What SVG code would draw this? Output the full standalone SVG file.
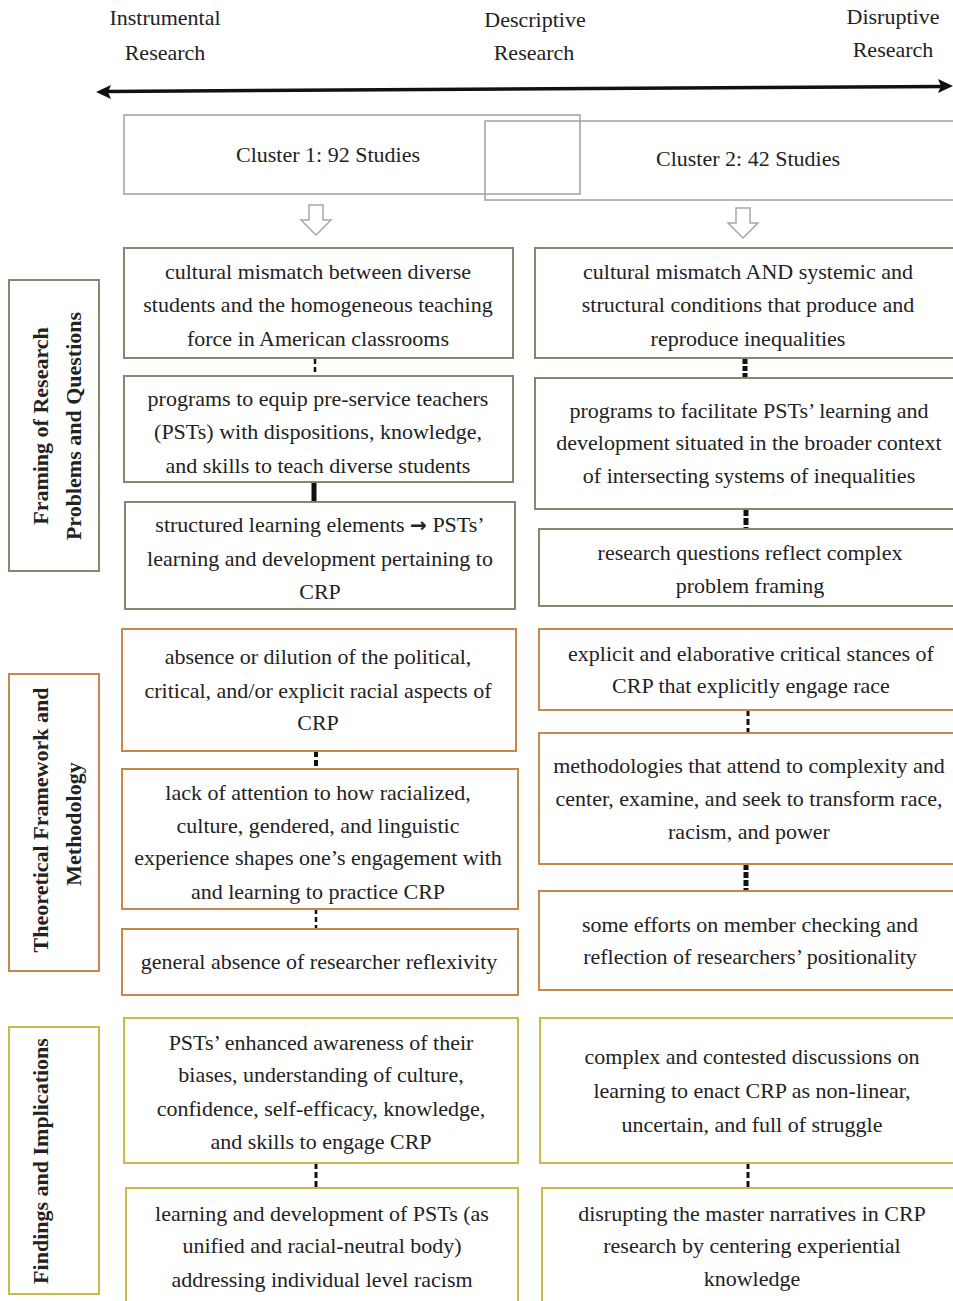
<svg xmlns="http://www.w3.org/2000/svg" width="953" height="1301" viewBox="0 0 953 1301">
<style>
text{font-family:"Liberation Serif","Times New Roman",serif;fill:#222;font-size:22px;text-anchor:middle}
.side{font-weight:bold;font-size:22px}
.arr{font-family:"DejaVu Sans",sans-serif;font-weight:bold;font-size:20px}
.s1{fill:#fff;stroke:#7f8b6e;stroke-width:2}
.s2{fill:#fff;stroke:#c8884a;stroke-width:2}
.s3{fill:#fff;stroke:#c9bc45;stroke-width:2}
.cl{fill:none;stroke:#a0a0a0;stroke-width:1.5}
.blk{fill:#fff;stroke:#a8a8a8;stroke-width:1.5}
.c{stroke:#111;fill:none}
</style>
<rect width="953" height="1301" fill="#fff"/>
<g id="header">
<text x="165" y="25">Instrumental</text>
<text x="165" y="60">Research</text>
<text x="535" y="27">Descriptive</text>
<text x="534" y="60">Research</text>
<text x="893" y="24">Disruptive</text>
<text x="893" y="57">Research</text>
</g>
<g id="axis">
<line x1="106" y1="91.5" x2="944" y2="86.5" stroke="#111" stroke-width="3.5"/>
<polygon points="96,92 111,85 108,92 111,99" fill="#111"/>
<polygon points="953,86 938,79 941,86 938,93" fill="#111"/>
</g>
<g id="cluster1"><rect class="cl" x="124" y="115" width="456" height="79"/></g>
<g id="cluster2"><rect class="cl" x="485" y="121" width="470" height="79"/></g>
<g id="cluster-labels">
<text x="328" y="162">Cluster 1: 92 Studies</text>
<text x="748" y="166">Cluster 2: 42 Studies</text>
</g>
<g id="block-arrows">
<path class="blk" d="M309,205 H323 V220 H331 L316,235 L301,220 H309 Z"/>
<path class="blk" d="M736,208 H750 V223 H758 L743,238 L728,223 H736 Z"/>
</g>
<g id="connectors">
<line class="c" x1="315" y1="359" x2="315" y2="376" stroke-width="2.5" stroke-dasharray="5,3"/>
<line class="c" x1="314" y1="482" x2="314" y2="502" stroke-width="5"/>
<line class="c" x1="745" y1="359" x2="745" y2="378" stroke-width="5" stroke-dasharray="5,2"/>
<line class="c" x1="746" y1="509" x2="746" y2="529" stroke-width="5" stroke-dasharray="7,2"/>
<line class="c" x1="316" y1="751" x2="316" y2="769" stroke-width="4" stroke-dasharray="6,3"/>
<line class="c" x1="316" y1="909" x2="316" y2="929" stroke-width="2.5" stroke-dasharray="5,3"/>
<line class="c" x1="748" y1="710" x2="748" y2="733" stroke-width="3" stroke-dasharray="6,3"/>
<line class="c" x1="746" y1="864" x2="746" y2="891" stroke-width="5" stroke-dasharray="6,2"/>
<line class="c" x1="316" y1="1163" x2="316" y2="1188" stroke-width="3" stroke-dasharray="6,3"/>
<line class="c" x1="748" y1="1163" x2="748" y2="1188" stroke-width="3" stroke-dasharray="6,3"/>
</g>
<g id="side1">
<rect class="s1" x="9" y="280" width="90" height="291"/>
<text class="side" transform="translate(48,426) rotate(-90)">Framing of Research</text>
<text class="side" transform="translate(81,426) rotate(-90)">Problems and Questions</text>
</g>
<g id="side2">
<rect class="s2" x="9" y="674" width="90" height="297"/>
<text class="side" transform="translate(48,820) rotate(-90)">Theoretical Framework and</text>
<text class="side" transform="translate(81,824) rotate(-90)">Methodology</text>
</g>
<g id="side3">
<rect class="s3" x="9" y="1027" width="90" height="267"/>
<text class="side" transform="translate(48,1161) rotate(-90)">Findings and Implications</text>
</g>
<g id="L1"><rect class="s1" x="124" y="248" width="389" height="110"/>
<text x="318" y="279">cultural mismatch between diverse</text>
<text x="318" y="312">students and the homogeneous teaching</text>
<text x="318" y="346">force in American classrooms</text></g>
<g id="L2"><rect class="s1" x="124" y="376" width="389" height="106"/>
<text x="318" y="406">programs to equip pre-service teachers</text>
<text x="318" y="439">(PSTs) with dispositions, knowledge,</text>
<text x="318" y="473">and skills to teach diverse students</text></g>
<g id="L3"><rect class="s1" x="125" y="502" width="390" height="107"/>
<text x="320" y="532">structured learning elements <tspan class="arr">→</tspan> PSTs’</text>
<text x="320" y="566">learning and development pertaining to</text>
<text x="320" y="599">CRP</text></g>
<g id="R1"><rect class="s1" x="535" y="248" width="420" height="110"/>
<text x="748" y="279">cultural mismatch AND systemic and</text>
<text x="748" y="312">structural conditions that produce and</text>
<text x="748" y="346">reproduce inequalities</text></g>
<g id="R2"><rect class="s1" x="535" y="378" width="420" height="131"/>
<text x="749" y="418">programs to facilitate PSTs’ learning and</text>
<text x="749" y="450">development situated in the broader context</text>
<text x="749" y="483">of intersecting systems of inequalities</text></g>
<g id="R3"><rect class="s1" x="539" y="529" width="416" height="77"/>
<text x="750" y="560">research questions reflect complex</text>
<text x="750" y="593">problem framing</text></g>
<g id="L4"><rect class="s2" x="122" y="629" width="394" height="122"/>
<text x="318" y="664">absence or dilution of the political,</text>
<text x="318" y="698">critical, and/or explicit racial aspects of</text>
<text x="318" y="730">CRP</text></g>
<g id="L5"><rect class="s2" x="122" y="769" width="396" height="140"/>
<text x="318" y="800">lack of attention to how racialized,</text>
<text x="318" y="833">culture, gendered, and linguistic</text>
<text x="318" y="865">experience shapes one’s engagement with</text>
<text x="318" y="899">and learning to practice CRP</text></g>
<g id="L6"><rect class="s2" x="122" y="929" width="396" height="66"/>
<text x="319" y="969">general absence of researcher reflexivity</text></g>
<g id="R4"><rect class="s2" x="539" y="629" width="416" height="81"/>
<text x="751" y="661">explicit and elaborative critical stances of</text>
<text x="751" y="693">CRP that explicitly engage race</text></g>
<g id="R5"><rect class="s2" x="539" y="733" width="416" height="131"/>
<text x="749" y="773">methodologies that attend to complexity and</text>
<text x="749" y="806">center, examine, and seek to transform race,</text>
<text x="749" y="839">racism, and power</text></g>
<g id="R6"><rect class="s2" x="539" y="891" width="416" height="99"/>
<text x="750" y="932">some efforts on member checking and</text>
<text x="750" y="964">reflection of researchers’ positionality</text></g>
<g id="L7"><rect class="s3" x="124" y="1018" width="394" height="145"/>
<text x="321" y="1050">PSTs’ enhanced awareness of their</text>
<text x="321" y="1082">biases, understanding of culture,</text>
<text x="321" y="1116">confidence, self-efficacy, knowledge,</text>
<text x="321" y="1149">and skills to engage CRP</text></g>
<g id="L8"><rect class="s3" x="126" y="1188" width="392" height="120"/>
<text x="322" y="1221">learning and development of PSTs (as</text>
<text x="322" y="1253">unified and racial-neutral body)</text>
<text x="322" y="1287">addressing individual level racism</text></g>
<g id="R7"><rect class="s3" x="540" y="1018" width="415" height="145"/>
<text x="752" y="1064">complex and contested discussions on</text>
<text x="752" y="1098">learning to enact CRP as non-linear,</text>
<text x="752" y="1132">uncertain, and full of struggle</text></g>
<g id="R8"><rect class="s3" x="542" y="1188" width="413" height="120"/>
<text x="752" y="1221">disrupting the master narratives in CRP</text>
<text x="752" y="1253">research by centering experiential</text>
<text x="752" y="1286">knowledge</text></g>
</svg>
